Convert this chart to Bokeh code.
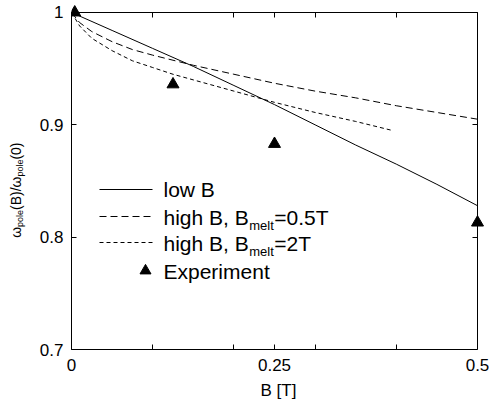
import math
from bokeh.plotting import figure
from bokeh.layouts import row
from bokeh.models import Range1d, LinearAxis, FixedTicker, Label, Arrow
from bokeh.embed import file_html
from bokeh.resources import INLINE

# ---------------- data ----------------
b_low = [0, 0.05, 0.1, 0.15, 0.2, 0.25, 0.3, 0.35, 0.4, 0.45, 0.5]
w_low = [1.0, 0.984, 0.968, 0.952, 0.935, 0.918, 0.900, 0.882, 0.865, 0.847, 0.828]

b_half = [0, 0.01, 0.025, 0.05, 0.075, 0.1, 0.15, 0.2, 0.25, 0.3, 0.35, 0.4, 0.45, 0.5]
w_half = [1.0, 0.991, 0.983, 0.974, 0.967, 0.962, 0.953, 0.945, 0.937, 0.930, 0.924, 0.917, 0.911, 0.905]

b_two = [0, 0.01, 0.025, 0.05, 0.075, 0.1, 0.125, 0.15, 0.2, 0.25, 0.3, 0.35, 0.395]
w_two = [1.0, 0.988, 0.977, 0.966, 0.957, 0.951, 0.945, 0.940, 0.930, 0.920, 0.911, 0.903, 0.895]

b_exp = [0.004, 0.125, 0.25, 0.5]
w_exp = [1.0, 0.936, 0.883, 0.813]

x_ticks = [0, 0.1, 0.2, 0.25, 0.3, 0.4, 0.5]
x_tick_labels = ["0", "", "", "0.25", "", "", "0.5"]
y_ticks = [0.7, 0.8, 0.9, 1.0]
y_tick_labels = ["0.7", "0.8", "0.9", "1"]
x_min, x_max = 0.0, 0.5
y_min, y_max = 0.7, 1.0

legend_labels = ["low B", "high B, B", "high B, B", "Experiment"]
legend_subs = ["", "melt", "melt", ""]
legend_tails = ["", "=0.5T", "=2T", ""]

# ---------------- layout (page pixels) ----------------
FONT = "Liberation Sans"
H = 402
PL, PR, PT, PB = 71, 477, 12, 350   # plot box (axes) on the page
EXT = 8                             # frame extends above/right of the axes so edge markers are not cut
FL, FR, FT, FB = PL, PR + EXT, PT - EXT, PB   # frame on the page
WL = 28                             # strip at the left holding the rotated y title
W = 489 - WL

# Arial / Liberation Sans advance widths (1/1000 em)
ADV = {'h': 556, 'i': 222, 'g': 556, ' ': 278, 'B': 667, ',': 278, 'm': 833,
       'e': 556, 'l': 222, 't': 278, '=': 584, '0': 556, '.': 278, '5': 556,
       'T': 611, '2': 556, '(': 333, ')': 333, '/': 278, 'p': 556, 'o': 556,
       'ω': 781, 'w': 722, 'E': 667, 'x': 500, 'r': 333, 'n': 556}


def tw(s, size):
    return sum(ADV.get(c, 556) for c in s) * size / 1000.0


xpp = (x_max - x_min) / (PR - PL)   # data per pixel
ypp = (y_max - y_min) / (PB - PT)

yr = Range1d(y_min - (FB - PB) * ypp, y_max + (PT - FT) * ypp)
p = figure(width=W, height=H,
           x_range=Range1d(x_min - (PL - FL) * xpp, x_max + (FR - PR) * xpp),
           y_range=yr,
           output_backend="svg", toolbar_location=None,
           min_border_left=FL - WL, min_border_right=489 - FR,
           min_border_top=FT, min_border_bottom=H - FB)
p.background_fill_color = "white"
p.border_fill_color = "white"
p.outline_line_color = None
p.xgrid.visible = False
p.ygrid.visible = False


def style_axis(ax, ticks, labels, show_labels, standoff, bounds, loc=None):
    ax.ticker = FixedTicker(ticks=ticks)
    ax.major_label_overrides = {t: (l if show_labels else "") for t, l in zip(ticks, labels)}
    ax.bounds = bounds
    if loc is not None:
        ax.fixed_location = loc
    ax.major_tick_in = 5
    ax.major_tick_out = 0
    ax.minor_tick_in = 0
    ax.minor_tick_out = 0
    ax.axis_line_color = "black"
    ax.axis_line_width = 1
    ax.major_tick_line_color = "black"
    ax.major_label_text_font = FONT
    ax.major_label_text_font_size = "17px" if show_labels else "0px"
    ax.major_label_text_color = "black"
    ax.major_label_standoff = standoff


bottom = p.xaxis[0]
left = p.yaxis[0]
style_axis(bottom, x_ticks, x_tick_labels, True, 9, (x_min, x_max))
style_axis(left, y_ticks, y_tick_labels, True, 8, (y_min, y_max))
bottom.axis_label = "B [T]"
bottom.axis_label_text_font = FONT
bottom.axis_label_text_font_size = "17px"
bottom.axis_label_text_font_style = "normal"
bottom.axis_label_text_color = "black"
bottom.axis_label_standoff = 7
top = LinearAxis()
right = LinearAxis()
style_axis(top, x_ticks, x_tick_labels, False, 0, (x_min, x_max), y_max)
style_axis(right, y_ticks, y_tick_labels, False, 0, (y_min, y_max), x_max)
p.add_layout(top, "above")
p.add_layout(right, "right")

# ---------------- curves ----------------
p.line(b_low, w_low, line_color="black", line_width=1)
p.line(b_half, w_half, line_color="black", line_width=1, line_dash="7 4")
p.line(b_two, w_two, line_color="black", line_width=1, line_dash="4 3")
p.scatter(b_exp, w_exp, marker="triangle", size=12, fill_color="black", line_color="black")


# ---------------- helpers: page px -> frame screen / data ----------------
def sx(px):
    return px - FL


def sy(py):
    return FB - py


def dx(px):
    return x_min + (px - PL) * xpp


def dy(py):
    return y_max - (py - PT) * ypp


# ---------------- legend ----------------
LF, LS = 21, 13
row_line_y = [190, 217, 243, 271]
row_text_y = [190, 218, 244, 272]
text_x = 163
dashes = [None, "7 4", "4 3", None]
for i in range(4):
    if i < 3:
        kw = {}
        if dashes[i]:
            kw["line_dash"] = dashes[i]
        p.add_layout(Arrow(end=None, x_start=sx(99), y_start=sy(row_line_y[i]),
                           x_end=sx(152), y_end=sy(row_line_y[i]),
                           start_units="screen", end_units="screen",
                           line_color="black", line_width=1, **kw))
    else:
        p.scatter([dx(145)], [dy(row_line_y[i])], marker="triangle", size=11,
                  fill_color="black", line_color="black")
    x = text_x
    p.add_layout(Label(x=sx(x), y=sy(row_text_y[i]), x_units="screen", y_units="screen",
                       text=legend_labels[i], text_font=FONT, text_font_size=f"{LF}px",
                       text_baseline="middle", text_align="left", text_color="black"))
    if legend_subs[i]:
        x += tw(legend_labels[i], LF) + 0.5
        p.add_layout(Label(x=sx(x), y=sy(row_text_y[i] + 8), x_units="screen", y_units="screen",
                           text=legend_subs[i], text_font=FONT, text_font_size=f"{LS}px",
                           text_baseline="middle", text_align="left", text_color="black"))
        x += tw(legend_subs[i], LS) + 0.5
        p.add_layout(Label(x=sx(x), y=sy(row_text_y[i]), x_units="screen", y_units="screen",
                           text=legend_tails[i], text_font=FONT, text_font_size=f"{LF}px",
                           text_baseline="middle", text_align="left", text_color="black"))

# ---------------- left strip: rotated y title with subscripts ----------------
q = figure(width=WL, height=H, x_range=Range1d(0, WL), y_range=yr,
           output_backend="svg", toolbar_location=None,
           min_border_left=0, min_border_right=0,
           min_border_top=FT, min_border_bottom=H - FB,
           x_axis_type=None, y_axis_type=None)
q.outline_line_color = None
q.xgrid.visible = False
q.ygrid.visible = False
q.background_fill_color = "white"
q.border_fill_color = "white"

YF, YS = 14, 9
pieces = [("ω", False), ("pole", True), ("(B)/ω", False), ("pole", True), ("(0)", False)]
pos = 238.0
for txt, sub in pieces:
    size = YS if sub else YF
    mid_x = 19.5 if sub else 15.5
    q.add_layout(Label(x=mid_x, y=dy(pos), text=txt, text_font=FONT,
                       text_font_size=f"{size}px", angle=math.pi / 2,
                       text_baseline="middle", text_align="left", text_color="black"))
    pos -= tw(txt, size)

layout = row(q, p, spacing=0)
open("out.html", "w").write(file_html(layout, INLINE))
